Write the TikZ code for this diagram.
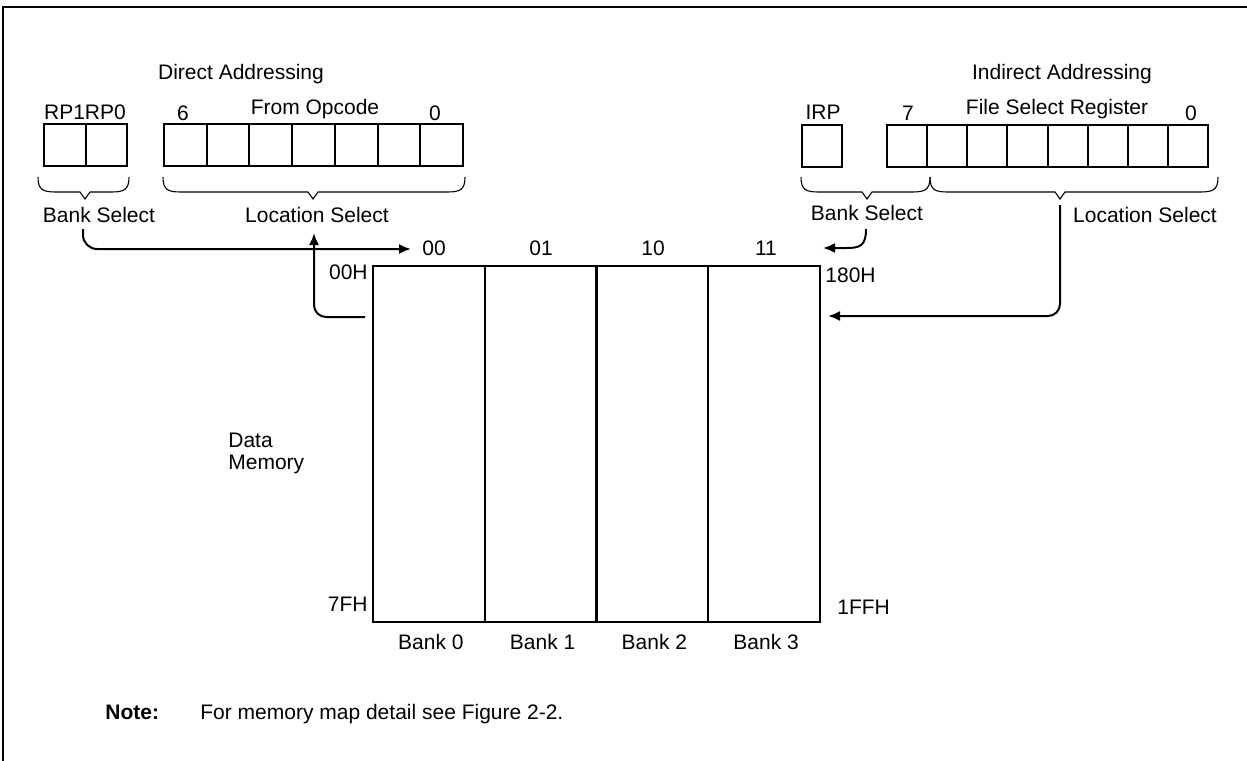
\documentclass[tikz,border=0pt]{standalone}
\usepackage{fontspec}
\setmainfont{Liberation Sans}
\usetikzlibrary{arrows.meta}
\begin{document}
\begin{tikzpicture}[x=0.5pt,y=-0.5pt,
  txt/.style={inner sep=0pt,font=\fontsize{10.5}{12.6}\selectfont},
  cellbox/.style={draw,line width=1pt,inner sep=0pt,minimum height=21pt},
  memcell/.style={draw,line width=1.1pt,inner sep=0pt,minimum width=55.875pt,minimum height=178pt},
  bracestyle/.style={line width=0.55pt},
  conn/.style={line width=1pt,-{Latex[length=6pt,width=5pt]}},
  frame/.style={line width=1.1pt}]
\useasboundingbox (0,0) rectangle (1247,760);
\draw[frame] (3,775) -- (3,7) -- (1260,7);

% titles
\node[txt] (dirt) at (241,74) {Direct Addressing};
\node[txt] (indt) at (1062,74) {Indirect Addressing};

% direct register
\node[cellbox,minimum width=20.75pt] (rp1) at (64.75,145) {};
\node[cellbox,minimum width=20.75pt] (rp0) at (106.25,145) {};
\node[txt] (rplab) at (85,112) {RP1RP0};
\foreach \i in {0,...,6}{
  \node[cellbox,minimum width=21.36pt] (op\i) at ({164+42.71*(\i+0.5)},145) {};
}
\node[txt] (six) at (183,113) {6};
\node[txt] (fromop) at (315,109) {From Opcode};
\node[txt] (zeroA) at (435,113) {0};

% indirect register
\node[cellbox,minimum width=20pt] (irp) at (822,145.5) {};
\node[txt] (irplab) at (823,112) {IRP};
\foreach \i in {0,...,7}{
  \node[cellbox,minimum width=20.06pt] (fsr\i) at ({887+40.125*(\i+0.5)},145.5) {};
}
\node[txt] (seven) at (908,113) {7};
\node[txt] (fsrlab) at (1057,109) {File Select Register};
\node[txt] (zeroB) at (1191,113) {0};

% braces
\newcommand{\regbrace}[3]{\draw[bracestyle] (#1,177) .. controls (#1,190) and (#1+5,192) .. (#1+18,192) -- (#2-5,192) -- (#2,199) -- (#2+5,192) -- (#3-18,192) .. controls (#3-5,192) and (#3,190) .. (#3,177);}
\regbrace{38}{85}{129}
\regbrace{163}{313}{465}
\regbrace{801}{867}{930}
\regbrace{930}{1060}{1218}

\node[txt] (bsA) at (99,215) {Bank Select};
\node[txt] (lsA) at (317,215) {Location Select};
\node[txt] (bsB) at (867,213) {Bank Select};
\node[txt] (lsB) at (1145,215) {Location Select};

% memory
\foreach \i/\n in {0/0,1/1,2/2,3/3}{
  \node[memcell] (bank\i) at ({373+111.75*(\i+0.5)},444) {};
  \node[txt] (banklab\i) at ({373+111.75*(\i+0.5)+2},642) {Bank \n};
}
\node[txt] (c00) at (434,248) {00};
\node[txt] (c01) at (541,248) {01};
\node[txt] (c10) at (653,248) {10};
\node[txt] (c11) at (766,248) {11};
\node[txt,anchor=east] (a00H) at (368,272) {00H};
\node[txt,anchor=east] (a7FH) at (368,604) {7FH};
\node[txt,anchor=west] (a180H) at (825,275) {180H};
\node[txt,anchor=west] (a1FFH) at (837,607) {1FFH};
\node[txt,align=left,anchor=north west,font=\fontsize{10.5}{10.8}\selectfont] (dm) at (228,433) {Data\\Memory};

% connectors
\coordinate (bsAstart) at (83,229);
\coordinate (bsAend) at (411,249);
\draw[conn,rounded corners=7pt] (bsAstart) -- (83,249) -- (bsAend);
\coordinate (lsAstart) at (365,317);
\coordinate (lsAend) at (314,233);
\draw[conn,rounded corners=6pt] (lsAstart) -- (314,317) -- (lsAend);
\coordinate (bsBstart) at (866,229);
\coordinate (bsBend) at (823,248);
\draw[conn] (bsBstart) .. controls (866,246) and (860,248) .. (846,248) -- (bsBend);
\coordinate (lsBstart) at (1060,205);
\coordinate (lsBend) at (828,316);
\draw[conn,rounded corners=6pt] (lsBstart) -- (1060,316) -- (lsBend);

% note
\node[txt,anchor=base west,font=\fontsize{10.5}{12.6}\selectfont\bfseries] (note) at (105,719) {Note:};
\node[txt,anchor=base west] (notetxt) at (200,719) {For memory map detail see Figure 2-2.};
\end{tikzpicture}
\end{document}
